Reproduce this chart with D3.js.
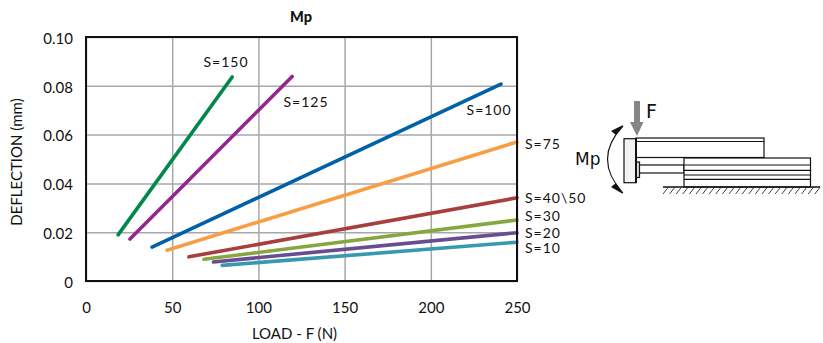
<!DOCTYPE html>
<html><head><meta charset="utf-8">
<script src="https://cdn.jsdelivr.net/npm/d3@7/dist/d3.min.js"></script>
<style>
html,body{margin:0;padding:0;background:#fff;overflow:hidden}
text{font-family:Lato,"Open Sans",sans-serif;fill:#111}
</style></head><body>
<svg id="c" width="823" height="343"></svg>
<script>
const seriesNames = ["S=150","S=125","S=100","S=75","S=40\\50","S=30","S=20","S=10"];
const seriesColors = ["#00874a","#92278f","#0060a8","#f99d42","#a83f3f","#86a73f","#6a4c93","#3798b0"];
const startLoad = [18.6,25.5,38.3,47,59.7,68.4,73.9,79];
const startDefl = [0.0189,0.0172,0.0139,0.0126,0.0099,0.0089,0.0078,0.0064];
const endLoad = [84.8,119.6,240.7,250,250,250,250,250];
const endDefl = [0.0836,0.0838,0.0807,0.0570,0.0341,0.0250,0.0198,0.0159];
const labelLoad = [81.2,127.6,233.8,254.6,254.6,254.6,254.6,254.6];
const labelDefl = [0.0897,0.0734,0.0700,0.0561,0.0340,0.0264,0.0197,0.0133];
const xTicks = [0,50,100,150,200,250];
const yTicks = [0,0.02,0.04,0.06,0.08,0.10];

const svg = d3.select("#c");
const x = d3.scaleLinear().domain([0,250]).range([86,517]);
const y = d3.scaleLinear().domain([0,0.10]).range([281,37]);

const gx = svg.append("g").attr("transform","translate(0,281)")
  .call(d3.axisBottom(x).tickValues(xTicks).tickSize(-244).tickPadding(21).tickFormat(d3.format("d")));
const gy = svg.append("g").attr("transform","translate(86,0)")
  .call(d3.axisLeft(y).tickValues(yTicks).tickSize(-431).tickPadding(13).tickFormat(d=>d===0?"0":d3.format(".2f")(d)));
[gx,gy].forEach(g=>{
  g.select(".domain").remove();
  g.selectAll("line").attr("stroke","#a7a7ab").attr("stroke-width",1.5);
  g.selectAll("text").attr("font-size",15).style("font-family","Lato,sans-serif").attr("fill","#111");
});
gy.selectAll("text").attr("dy","0.42em");
const line = d3.line().x(d=>x(d[0])).y(d=>y(d[1]));
seriesNames.forEach((n,i)=>{
  svg.append("path").attr("d",line([[startLoad[i],startDefl[i]],[endLoad[i],endDefl[i]]]))
    .attr("fill","none").attr("stroke",seriesColors[i]).attr("stroke-width",3.6)
    .attr("stroke-linecap","round");
});
svg.append("rect").attr("x",86).attr("y",37).attr("width",431).attr("height",244)
  .attr("fill","none").attr("stroke","#111").attr("stroke-width",2);
seriesNames.forEach((n,i)=>{
  svg.append("text").attr("x",x(labelLoad[i])).attr("y",y(labelDefl[i])).attr("dy","0.35em")
    .attr("font-size",14).attr("letter-spacing",1).attr("text-anchor",i<3?"middle":"start").text(n);
});
svg.append("text").attr("x",301).attr("y",22).attr("text-anchor","middle").attr("font-size",14.5).attr("font-weight",900).text("Mp");
svg.append("text").attr("x",294.5).attr("y",339).attr("text-anchor","middle").attr("font-size",15).text("LOAD - F (N)");
svg.append("text").attr("transform","translate(22,162) rotate(-90)").attr("text-anchor","middle").attr("font-size",15).text("DEFLECTION (mm)");

// side diagram
const d = svg.append("g").attr("fill","none").attr("stroke","#111").attr("stroke-width",1.2);
d.append("rect").attr("x",636).attr("y",138).attr("width",128).attr("height",19.5).attr("fill","#fff");
d.append("path").attr("d","M636 141.5H764");
d.append("rect").attr("x",639).attr("y",165).attr("width",45).attr("height",8).attr("fill","#fff");
d.append("rect").attr("x",636).attr("y",162).attr("width",3.5).attr("height",15.5).attr("fill","#ddd");
d.append("rect").attr("x",624).attr("y",138.7).attr("width",12).attr("height",44).attr("fill","#f2f2f2");
d.append("path").attr("d","M636 138V183").attr("stroke-width",2);
d.append("rect").attr("x",684).attr("y",158).attr("width",126.5).attr("height",29).attr("fill","#fff");
d.append("path").attr("d","M684 165H810.5M684 170.3H810.5M684 175H810.5M684 179.3H810.5");
d.append("path").attr("d","M663 187H820").attr("stroke-width",1.4);
const hatchX = d3.range(663,818,6.6);
d.selectAll(".h").data(hatchX).enter().append("path").attr("class","h")
  .attr("d",v=>`M${v+5} 187.5L${v} 194`).attr("stroke-width",.8);
d.append("path").attr("d","M623 126Q592 159 623 193").attr("stroke-width",1.1);
svg.append("path").attr("d","M623 125L611 131L616 135Z").attr("fill","#111");
svg.append("path").attr("d","M623 194L611 187L616 183Z").attr("fill","#111");
svg.append("path").attr("d","M634 101H640V122H643.5L637 136L630 122H634Z").attr("fill","#858585");
svg.append("text").attr("x",646).attr("y",118).attr("font-size",19).style("font-family","DejaVu Sans").text("F");
svg.append("text").attr("x",575).attr("y",165).attr("font-size",17).style("font-family","DejaVu Sans").text("Mp");
</script></body></html>
